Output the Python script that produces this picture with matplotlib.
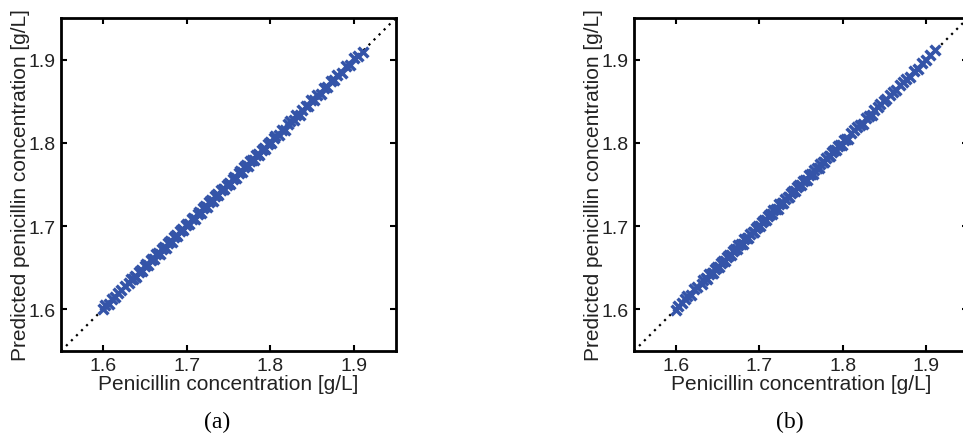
import matplotlib
matplotlib.use('Agg')
import matplotlib.pyplot as plt

# Measured penicillin concentration [g/L] (shared by both panels)
actual = [1.600, 1.603, 1.607, 1.611, 1.614, 1.618, 1.622, 1.626, 1.631, 1.633,
          1.636, 1.638, 1.640, 1.643, 1.645, 1.647, 1.650, 1.652, 1.654, 1.657,
          1.659, 1.661, 1.664, 1.666, 1.668, 1.671, 1.673, 1.675, 1.678, 1.680,
          1.682, 1.685, 1.687, 1.689, 1.692, 1.694, 1.696, 1.699, 1.701, 1.703,
          1.706, 1.708, 1.710, 1.713, 1.715, 1.717, 1.720, 1.722, 1.724, 1.727,
          1.729, 1.731, 1.734, 1.736, 1.738, 1.741, 1.743, 1.745, 1.748, 1.750,
          1.752, 1.755, 1.757, 1.759, 1.762, 1.764, 1.766, 1.769, 1.771, 1.773,
          1.776, 1.778, 1.780, 1.783, 1.785, 1.787, 1.790, 1.792, 1.794, 1.797,
          1.799, 1.801, 1.804, 1.806, 1.810, 1.814, 1.817, 1.821, 1.824, 1.828,
          1.831, 1.835, 1.838, 1.842, 1.845, 1.849, 1.852, 1.856, 1.860, 1.864,
          1.868, 1.872, 1.876, 1.880, 1.885, 1.890, 1.895, 1.900, 1.905, 1.910]

# Predicted concentration, panel (a)
predicted_a = [1.601, 1.605, 1.606, 1.613, 1.615, 1.620, 1.623, 1.628, 1.632, 1.636,
               1.637, 1.640, 1.639, 1.645, 1.647, 1.646, 1.652, 1.654, 1.653, 1.659,
               1.661, 1.660, 1.666, 1.668, 1.667, 1.673, 1.675, 1.674, 1.680, 1.682,
               1.681, 1.687, 1.689, 1.688, 1.694, 1.696, 1.695, 1.701, 1.703, 1.702,
               1.708, 1.710, 1.709, 1.715, 1.717, 1.716, 1.722, 1.724, 1.723, 1.729,
               1.731, 1.730, 1.736, 1.738, 1.737, 1.743, 1.745, 1.744, 1.750, 1.752,
               1.751, 1.757, 1.759, 1.758, 1.764, 1.766, 1.765, 1.771, 1.773, 1.772,
               1.778, 1.780, 1.779, 1.785, 1.787, 1.786, 1.792, 1.794, 1.793, 1.799,
               1.801, 1.800, 1.806, 1.808, 1.809, 1.816, 1.816, 1.823, 1.826, 1.827,
               1.833, 1.834, 1.840, 1.844, 1.844, 1.851, 1.851, 1.858, 1.859, 1.866,
               1.867, 1.874, 1.875, 1.882, 1.884, 1.892, 1.894, 1.902, 1.904, 1.909]

# Predicted concentration, panel (b)
predicted_b = [1.599, 1.604, 1.608, 1.612, 1.616, 1.617, 1.624, 1.627, 1.630, 1.635,
               1.638, 1.637, 1.642, 1.644, 1.644, 1.649, 1.651, 1.651, 1.656, 1.658,
               1.658, 1.663, 1.665, 1.665, 1.670, 1.672, 1.672, 1.677, 1.679, 1.679,
               1.684, 1.686, 1.686, 1.691, 1.693, 1.693, 1.698, 1.700, 1.700, 1.705,
               1.707, 1.707, 1.712, 1.714, 1.714, 1.719, 1.721, 1.721, 1.726, 1.728,
               1.728, 1.733, 1.735, 1.735, 1.740, 1.742, 1.742, 1.747, 1.749, 1.749,
               1.754, 1.756, 1.756, 1.761, 1.763, 1.763, 1.768, 1.770, 1.770, 1.775,
               1.777, 1.777, 1.782, 1.784, 1.784, 1.789, 1.791, 1.791, 1.796, 1.798,
               1.798, 1.803, 1.805, 1.805, 1.812, 1.815, 1.819, 1.822, 1.823, 1.830,
               1.832, 1.834, 1.839, 1.843, 1.847, 1.850, 1.853, 1.857, 1.861, 1.863,
               1.869, 1.873, 1.877, 1.879, 1.886, 1.889, 1.896, 1.899, 1.906, 1.911]

diag = [1.55, 1.95]
ticks = [1.6, 1.7, 1.8, 1.9]
tick_labels = ['1.6', '1.7', '1.8', '1.9']
panel_labels = ['(a)', '(b)']

plt.rcParams['font.family'] = ['Liberation Sans', 'DejaVu Sans']

fig = plt.figure(figsize=(9.63, 4.39), dpi=100)

# axes boxes in figure fractions (left, bottom, width, height)
boxes = [[61 / 963, 87 / 439, 335 / 963, 333 / 439],
         [634 / 963, 87 / 439, 334 / 963, 333 / 439]]

for box, pred, plabel in zip(boxes, [predicted_a, predicted_b], panel_labels):
    ax = fig.add_axes(box)
    ax.plot(diag, diag, color='black', linestyle=(0, (1, 2.2)), linewidth=1.6, zorder=1)
    ax.scatter(actual, pred, marker='x', s=50, linewidths=2.5, color='#3454a8', zorder=2)
    ax.set_xlim(1.55, 1.95)
    ax.set_ylim(1.55, 1.95)
    ax.set_xticks(ticks)
    ax.set_xticklabels(tick_labels)
    ax.set_yticks(ticks)
    ax.set_yticklabels(tick_labels)
    ax.tick_params(direction='in', length=4, width=1.5, top=True, right=True,
                   labelsize=14, labelcolor='#222222', pad=4)
    for sp in ax.spines.values():
        sp.set_linewidth(2)
    ax.set_xlabel('Penicillin concentration [g/L]', fontsize=15, color='#222222', labelpad=0)
    ax.set_ylabel('Predicted penicillin concentration [g/L]', fontsize=15, color='#222222', labelpad=-1)
    # panel caption below the plot
    cx = box[0] + box[2] / 2 - 11 / 963
    fig.text(cx, 17 / 439, plabel, ha='center', va='center', fontsize=17,
             family='Liberation Serif')

fig.savefig('out.png', dpi=100)
